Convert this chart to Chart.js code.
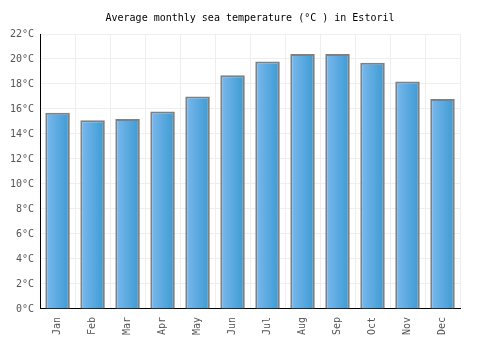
<!DOCTYPE html>
<html><head><meta charset="utf-8">
<script src="https://cdn.jsdelivr.net/npm/chart.js@4/dist/chart.umd.min.js"></script>
<style>html,body{margin:0;padding:0;background:#fff}#w{width:500px;height:350px}</style>
</head><body><div id="w"><canvas id="c" width="500" height="350"></canvas></div>
<script>
const months = ["Jan","Feb","Mar","Apr","May","Jun","Jul","Aug","Sep","Oct","Nov","Dec"];
const seaTemp = [15.7,15.1,15.2,15.8,17.0,18.7,19.8,20.4,20.4,19.7,18.2,16.8];
const chartTitle = "Average monthly sea temperature (°C ) in Estoril";
const yMax = 22, yStep = 2;

function barGradient(ctx){
  const chart = ctx.chart;
  const x = chart.scales && chart.scales.x;
  if (!x || !chart.chartArea || ctx.dataIndex === undefined) return '#5aa8e0';
  const cx = x.getPixelForValue(ctx.dataIndex);
  const w = (chart.chartArea.right - chart.chartArea.left) / months.length * 0.7;
  const g = chart.ctx.createLinearGradient(cx - w/2, 0, cx + w/2, 0);
  g.addColorStop(0, '#7cb9ed');
  g.addColorStop(1, '#3b9ad3');
  return g;
}

new Chart(document.getElementById('c'), {
  type: 'bar',
  data: { labels: months, datasets: [{ data: seaTemp, backgroundColor: barGradient, borderColor: '#808080', borderWidth: 2, borderSkipped: 'start', barPercentage: 0.7, categoryPercentage: 1 }] },
  options: {
    responsive: false, animation: false,
    layout: { padding: { left: 4, right: 4, top: 0, bottom: 7 } },
    plugins: {
      legend: { display: false }, tooltip: { enabled: false },
      title: { display: true, text: chartTitle, color: '#000', font: { family: 'DejaVu Sans Mono', size: 10, weight: 'normal' }, padding: { top: 12, bottom: 10 } }
    },
    scales: {
      x: {
        grid: { color: '#eeeeee', offset: true, drawTicks: false },
        border: { color: '#000', width: 1 },
        ticks: { color: '#555', font: { family: 'DejaVu Sans Mono', size: 10 }, minRotation: 90, maxRotation: 90, padding: 8 }
      },
      y: {
        min: 0, max: yMax,
        grid: { color: '#eeeeee', drawTicks: false },
        border: { color: '#000', width: 1 },
        ticks: { stepSize: yStep, color: '#555', font: { family: 'DejaVu Sans Mono', size: 10 }, padding: 6, callback: v => v + '°C' }
      },
      yR: {
        position: 'right', min: 0, max: yMax,
        grid: { display: false, drawTicks: false },
        border: { display: false },
        ticks: { display: false },
        afterFit: s => { s.width = 36; }
      }
    }
  }
});
</script></body></html>
